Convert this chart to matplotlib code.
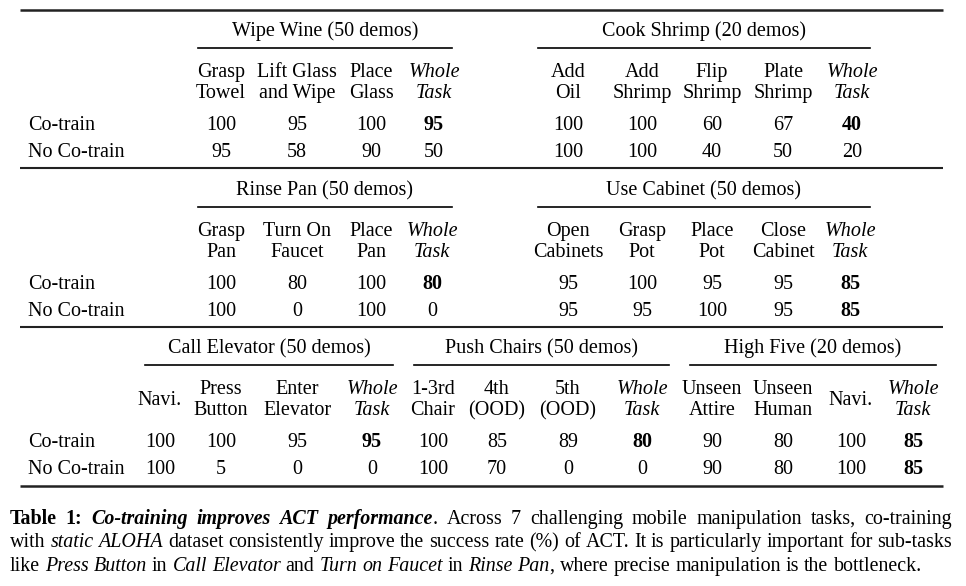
"""
Table 1 from the mobile ALOHA paper, redrawn as text with matplotlib.
"""

import matplotlib
matplotlib.use("Agg")
import matplotlib.pyplot as plt

# ------------------------------------------------------------
# Data
# ------------------------------------------------------------

row_labels = ["Co-train", "No Co-train"]

wipe_title = "Wipe Wine (50 demos)"
wipe_cols = [("Grasp", "Towel"), ("Lift Glass", "and Wipe"), ("Place", "Glass"), ("Whole", "Task")]
wipe_co = [100, 95, 100, 95]
wipe_no = [95, 58, 90, 50]

shrimp_title = "Cook Shrimp (20 demos)"
shrimp_cols = [("Add", "Oil"), ("Add", "Shrimp"), ("Flip", "Shrimp"), ("Plate", "Shrimp"), ("Whole", "Task")]
shrimp_co = [100, 100, 60, 67, 40]
shrimp_no = [100, 100, 40, 50, 20]

rinse_title = "Rinse Pan (50 demos)"
rinse_cols = [("Grasp", "Pan"), ("Turn On", "Faucet"), ("Place", "Pan"), ("Whole", "Task")]
rinse_co = [100, 80, 100, 80]
rinse_no = [100, 0, 100, 0]

cabinet_title = "Use Cabinet (50 demos)"
cabinet_cols = [("Open", "Cabinets"), ("Grasp", "Pot"), ("Place", "Pot"), ("Close", "Cabinet"), ("Whole", "Task")]
cabinet_co = [95, 100, 95, 95, 85]
cabinet_no = [95, 95, 100, 95, 85]

elevator_title = "Call Elevator (50 demos)"
elevator_cols = [("Navi.",), ("Press", "Button"), ("Enter", "Elevator"), ("Whole", "Task")]
elevator_co = [100, 100, 95, 95]
elevator_no = [100, 5, 0, 0]

chairs_title = "Push Chairs (50 demos)"
chairs_cols = [("1-3rd", "Chair"), ("4th", "(OOD)"), ("5th", "(OOD)"), ("Whole", "Task")]
chairs_co = [100, 85, 89, 80]
chairs_no = [100, 70, 0, 0]

five_title = "High Five (20 demos)"
five_cols = [("Unseen", "Attire"), ("Unseen", "Human"), ("Navi.",), ("Whole", "Task")]
five_co = [90, 80, 100, 85]
five_no = [90, 80, 100, 85]

caption_lines = [
    [("Table 1: ", "b"), ("Co-training improves ACT performance", "bi"),
     (". Across 7 challenging mobile manipulation tasks, co-training", "r")],
    [("with ", "r"), ("static ALOHA", "i"),
     (" dataset consistently improve the success rate (%) of ACT. It is particularly important for sub-tasks", "r")],
    [("like ", "r"), ("Press Button", "i"), (" in ", "r"), ("Call Elevator", "i"), (" and ", "r"),
     ("Turn on Faucet", "i"), (" in ", "r"), ("Rinse Pan", "i"),
     (", where precise manipulation is the bottleneck.", "r")],
]

# ------------------------------------------------------------
# Layout (pixels)
# ------------------------------------------------------------

FONT = "Liberation Serif"
FS = 14.5
FS_CAP = 14.4
W, H = 966, 586
BASE = 6  # centre of capitals -> baseline offset

fig = plt.figure(figsize=(W / 100, H / 100), dpi=100)
ax = fig.add_axes([0, 0, 1, 1])
ax.set_xlim(0, W)
ax.set_ylim(H, 0)
ax.axis("off")

STYLES = {
    "r": dict(fontweight="normal", fontstyle="normal"),
    "b": dict(fontweight="bold", fontstyle="normal"),
    "i": dict(fontweight="normal", fontstyle="italic"),
    "bi": dict(fontweight="bold", fontstyle="italic"),
}


def put(x, y, s, style="r", ha="center"):
    return ax.text(x, y + BASE, s, ha=ha, va="baseline", fontsize=FS,
                   family=FONT, color="black", **STYLES[style])


def rule(y, x0=20, x1=943, lw=1.8):
    ax.plot([x0, x1], [y, y], color="#222222", lw=lw, solid_capstyle="butt")


def group(title, cols, co, no, xs, line, y0):
    # title, underline, sub headers and two rows
    put(sum(line) / 2, y0, title)
    ax.plot(line, [y0 + 18, y0 + 18], color="black", lw=1.2)
    best = max(co[-1], no[-1])
    for j, (x, c) in enumerate(zip(xs, cols)):
        style = "i" if c[0] == "Whole" else "r"
        if len(c) == 2:
            put(x, y0 + 41, c[0], style)
            put(x, y0 + 62, c[1], style)
        else:
            put(x, y0 + 52, c[0], style)
        for v, yy in ((co[j], y0 + 94), (no[j], y0 + 121)):
            bold = j == len(cols) - 1 and v == best
            put(x, yy, str(v), "b" if bold else "r")


def labels(y0):
    put(28, y0 + 94, row_labels[0], ha="left")
    put(28, y0 + 121, row_labels[1], ha="left")


rule(10)
group(wipe_title, wipe_cols, wipe_co, wipe_no, [221, 297, 371, 434], (198, 452), 30)
group(shrimp_title, shrimp_cols, shrimp_co, shrimp_no, [568, 642, 712, 783, 852], (538, 870), 30)
labels(30)
rule(168, lw=1.5)

group(rinse_title, rinse_cols, rinse_co, rinse_no, [221, 297, 371, 432], (198, 452), 189)
group(cabinet_title, cabinet_cols, cabinet_co, cabinet_no, [568, 642, 712, 783, 850], (538, 870), 189)
labels(189)
rule(327, lw=1.5)

group(elevator_title, elevator_cols, elevator_co, elevator_no, [160, 221, 297, 372], (145, 393), 347)
group(chairs_title, chairs_cols, chairs_co, chairs_no, [433, 497, 568, 642], (414, 669), 347)
group(five_title, five_cols, five_co, five_no, [712, 783, 851, 913], (690, 936), 347)
labels(347)
rule(486)

# ------------------------------------------------------------
# Caption (justified lines)
# ------------------------------------------------------------

renderer = fig.canvas.get_renderer()


def words_of(segs):
    words = [[]]
    for text, style in segs:
        parts = text.split(" ")
        for i, p in enumerate(parts):
            if i > 0:
                words.append([])
            if p:
                words[-1].append((p, style))
    return [w for w in words if w]


cap_x0, cap_x1 = 10, 952
cap_y = [518, 541, 565]
for li, segs in enumerate(caption_lines):
    words = words_of(segs)
    placed = []
    total = 0
    for w in words:
        pieces = []
        ww = 0
        for p, st in w:
            t = ax.text(0, cap_y[li] + BASE, p, ha="left", va="baseline", fontsize=FS_CAP,
                        family=FONT, **STYLES[st])
            wd = t.get_window_extent(renderer).width
            pieces.append((t, wd))
            ww += wd
        placed.append((pieces, ww))
        total += ww
    space = ax.text(0, 0, " ", fontsize=FS_CAP, family=FONT).get_window_extent(renderer).width
    if li < len(caption_lines) - 1:
        gap = (cap_x1 - cap_x0 - total) / (len(words) - 1)
    else:
        gap = space
    x = cap_x0
    for pieces, ww in placed:
        for t, wd in pieces:
            t.set_x(x)
            x += wd
        x += gap

fig.savefig("out.png", dpi=100, facecolor="white")
